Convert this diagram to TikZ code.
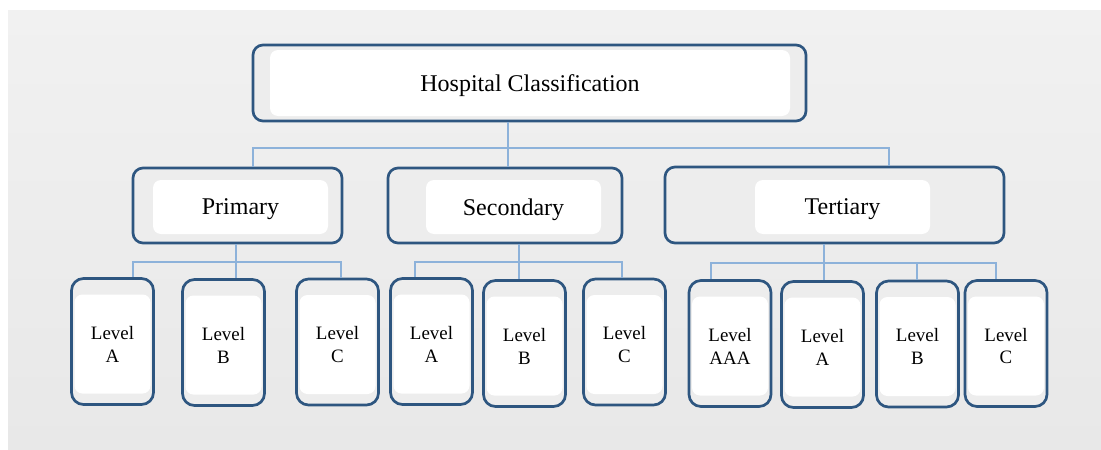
\documentclass[tikz,border=0pt]{standalone}
\usepackage{fontspec}
\setmainfont{Liberation Serif}
\definecolor{boxblue}{RGB}{46,86,128}
\definecolor{linkblue}{RGB}{141,178,218}
\definecolor{bgtop}{RGB}{241,241,241}
\definecolor{bgbot}{RGB}{232,232,232}
\begin{document}
\begin{tikzpicture}[x=0.75pt,y=-0.75pt,
  outerbox/.style={draw=boxblue,line width=2pt,rounded corners=7.5pt,fill=bgtop!60!bgbot,
    inner sep=0pt},
  innerbox/.style={fill=white,rounded corners=6pt,inner sep=0pt,align=center,
    font=\fontsize{18}{21}\selectfont},
  bigin/.style={innerbox,text depth=0pt},
  lvlbox/.style={outerbox,rounded corners=9pt,minimum width=61.5pt,minimum height=94.5pt},
  lvlin/.style={innerbox,minimum width=57pt,minimum height=74.25pt,
    font=\fontsize{14.2}{17.2}\selectfont},
  link/.style={draw=linkblue,line width=0.8pt}]
\useasboundingbox (0,0) rectangle (1101,450);
\shade[top color=bgtop,bottom color=bgbot] (8,10) rectangle (1101,450);

% top and second row
\node[outerbox,minimum width=414.75pt,minimum height=57pt] (hc) at (529.5,83) {};
\node[bigin,minimum width=390pt,minimum height=49.5pt] (hci) at (530,83) {Hospital Classification};
\node[outerbox,minimum width=156.75pt,minimum height=56.25pt] (prim) at (237.5,205.5) {};
\node[bigin,minimum width=131.25pt,minimum height=40.5pt] (primi) at (240.5,207) {Primary};
\node[outerbox,minimum width=175.5pt,minimum height=56.25pt] (sec) at (505,205.5) {};
\node[bigin,minimum width=131.25pt,minimum height=40.5pt] (seci) at (513.5,207) {Secondary};
\node[outerbox,minimum width=254.25pt,minimum height=57pt] (tert) at (834.5,205) {};
\node[bigin,minimum width=131.25pt,minimum height=40.5pt] (terti) at (842.5,207) {Tertiary};

% levels
\foreach \nm/\x/\y/\t in {pA/112.5/341.5/A, pB/223.5/342.5/B, pC/337.5/342/C,
    sA/431.5/341.5/A, sB/524.5/343.5/B, sC/624.5/342/C,
    tAAA/730/343.5/AAA, tA/822.5/344.5/A, tB/917.5/344/B, tC/1006/343.5/C}{
  \node[lvlbox] (\nm) at (\x,\y) {};
  \node[lvlin] (\nm i) at (\x,\y+2.5) {Level\\\t};
}

% connectors
\coordinate (hcx) at (508,148);
\coordinate (b0l) at (253,148);
\coordinate (b0r) at (889,148);
\draw[link] (hc.south -| hcx) -- (sec.north -| hcx);
\draw[link] (prim.north -| b0l) -- (b0l) -- (b0r) -- (tert.north -| b0r);

\coordinate (b1l) at (133,262);
\coordinate (b1m) at (236,262);
\coordinate (b1r) at (341,262);
\draw[link] (prim.south -| b1m) -- (pB.north -| b1m);
\draw[link] (pA.north -| b1l) -- (b1l) -- (b1r) -- (pC.north -| b1r);

\coordinate (b2l) at (415,262);
\coordinate (b2m) at (519,262);
\coordinate (b2r) at (622,262);
\draw[link] (sec.south -| b2m) -- (sB.north -| b2m);
\draw[link] (sA.north -| b2l) -- (b2l) -- (b2r) -- (sC.north -| b2r);

\coordinate (b3l) at (711,263);
\coordinate (b3m) at (824,263);
\coordinate (b3b) at (917,263);
\coordinate (b3r) at (996,263);
\draw[link] (tert.south -| b3m) -- (tA.north -| b3m);
\draw[link] (tAAA.north -| b3l) -- (b3l) -- (b3r) -- (tC.north -| b3r);
\draw[link] (b3b) -- (tB.north -| b3b);
\end{tikzpicture}
\end{document}
